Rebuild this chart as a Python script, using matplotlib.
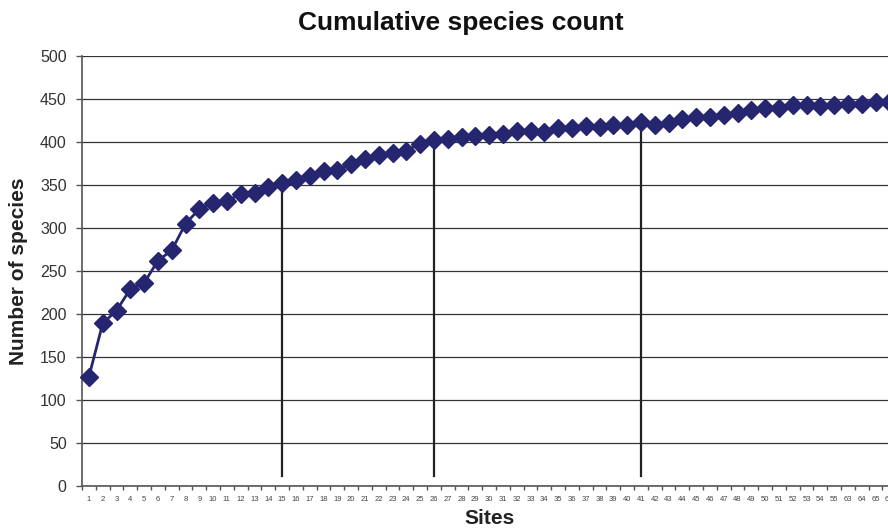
import matplotlib
matplotlib.use("Agg")
import matplotlib.pyplot as plt
import numpy as np

plt.rcParams['font.family'] = ['Liberation Sans', 'DejaVu Sans']

sites = [str(i) for i in range(1, 56)] + ["63", "64", "65", "66"]
species = [127, 189, 204, 229, 236, 262, 274, 305, 322, 329,
           331, 340, 341, 348, 352, 356, 361, 366, 368, 374,
           380, 385, 387, 390, 398, 402, 403, 406, 407, 408,
           409, 413, 413, 412, 416, 416, 419, 418, 420, 420,
           423, 420, 422, 427, 429, 429, 431, 434, 437, 439,
           439, 443, 443, 442, 443, 444, 444, 447, 447]
marked_sites = ["15", "26", "41"]
line_floor = 12

title = "Cumulative species count"
xlabel = "Sites"
ylabel = "Number of species"
yticks = list(range(0, 501, 50))

navy = "#262670"

fig = plt.figure(figsize=(8.88, 5.29), dpi=100)
ax = fig.add_axes([82/888, 43/529, (59*13.8)/888, 430/529])

x = np.arange(len(sites))
ax.plot(x, species, color=navy, lw=2.0, marker='D', ms=8.8,
        markerfacecolor=navy, markeredgecolor=navy, zorder=3, clip_on=False)

for s in marked_sites:
    i = sites.index(s)
    ax.plot([i, i], [line_floor, species[i]], color="#222222", lw=1.6, zorder=2)

ax.set_xlim(-0.5, len(sites) - 0.5)
ax.set_ylim(0, 500)
ax.set_yticks(yticks)
ax.set_yticklabels([str(v) for v in yticks], fontsize=11.5, color="#333333")
ax.set_xticks(x)
ax.set_xticklabels(sites, fontsize=5.5, color="#444444")
ax.set_xticks(np.arange(-0.5, len(sites), 1.0), minor=True)
ax.tick_params(axis='x', which='major', length=0, pad=7)
ax.tick_params(axis='x', which='minor', length=3, width=1, color="#555555", direction='out')
ax.tick_params(axis='y', which='major', length=4, width=1, color="#555555", direction='out', pad=7)

ax.yaxis.grid(True, color="#333333", lw=0.9)
ax.set_axisbelow(True)
for side in ['top', 'right']:
    ax.spines[side].set_visible(False)
for side in ['left', 'bottom']:
    ax.spines[side].set_color("#555555")
    ax.spines[side].set_linewidth(1.2)

fig.text(461/888, 1 - 23/529, title, ha='center', va='center', fontsize=19, fontweight='bold', color="#111111")
fig.text(490/888, 1 - 519/529, xlabel, ha='center', va='center', fontsize=15, fontweight='bold', color="#222222")
fig.text(19/888, 1 - 271/529, ylabel, ha='center', va='center', rotation=90, fontsize=15, fontweight='bold', color="#222222")

fig.savefig("out.png", dpi=100)
